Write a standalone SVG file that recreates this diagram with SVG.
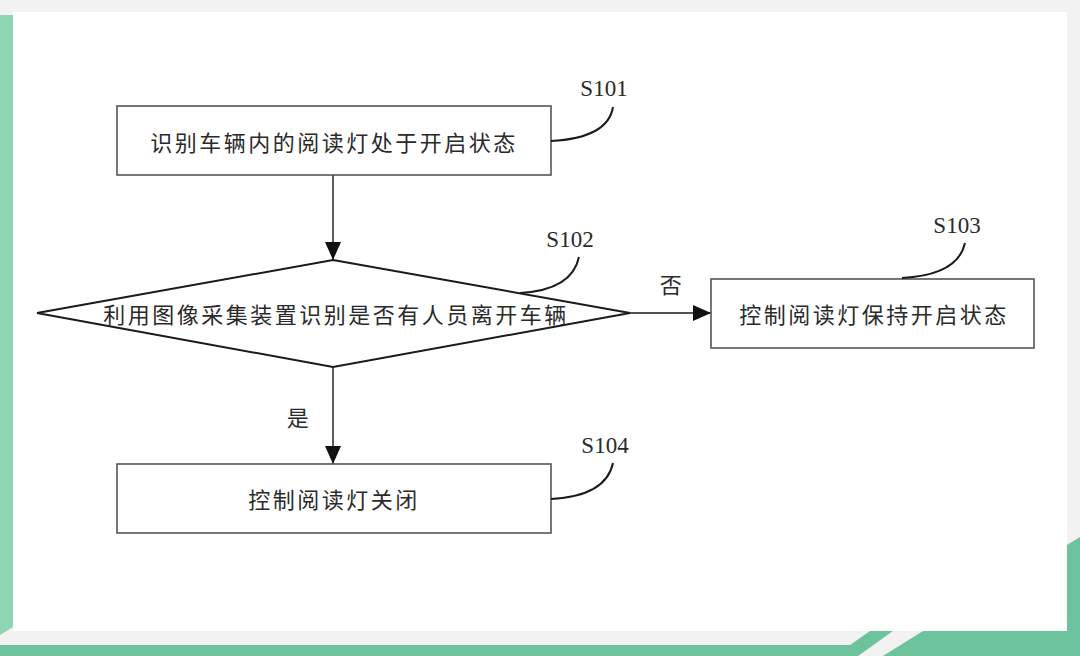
<svg xmlns="http://www.w3.org/2000/svg" width="1080" height="656" viewBox="0 0 1080 656">
  <style>
    .box { fill: #ffffff; stroke: #555555; stroke-width: 1.6; }
    .dia { fill: #ffffff; stroke: #1a1a1a; stroke-width: 2; }
    .conn { fill: none; stroke: #1a1a1a; stroke-width: 1.4; }
    .lead { fill: none; stroke: #1a1a1a; stroke-width: 2; }
    .cn { font-family: "Noto Sans CJK SC", "Noto Sans", sans-serif; font-size: 22px; fill: #2a2a2a; letter-spacing: 2.5px; dominant-baseline: central; text-anchor: middle; }
    .lbl { font-family: "Liberation Serif", serif; font-size: 23px; fill: #2a2a2a; text-anchor: middle; }
  </style>
  <defs>
    <marker id="arr" markerUnits="userSpaceOnUse" markerWidth="18" markerHeight="16" refX="18" refY="8" orient="auto">
      <path d="M0,0 L18,8 L0,16 z" fill="#111111"/>
    </marker>
  </defs>

  <g id="background">
    <rect x="0" y="0" width="1080" height="656" fill="#f2f2f2"/>
    <rect x="13" y="12" width="1054" height="619" fill="#ffffff"/>
    <polygon points="0,15 13,15 13,627 0,635" fill="#8ed5b2"/>
    <polygon points="0,645 850,645 870,631 893,631 858,656 0,656" fill="#6cc39c"/>
    <polygon points="923,631 1067,631 1067,545 1080,537 1080,656 883,656" fill="#6cc39c"/>
  </g>

  <g id="connectors">
    <line class="conn" x1="333" y1="175" x2="333" y2="260" marker-end="url(#arr)"/>
    <line class="conn" x1="630" y1="313" x2="711" y2="313" marker-end="url(#arr)"/>
    <line class="conn" x1="333" y1="367" x2="333" y2="464" marker-end="url(#arr)"/>
    <text class="cn" x="672" y="283">否</text>
    <text class="cn" x="299" y="416">是</text>
  </g>

  <g id="S101">
    <rect class="box" x="117" y="106" width="434" height="69"/>
    <text class="cn" x="334" y="141">识别车辆内的阅读灯处于开启状态</text>
    <path class="lead" d="M613,107 Q608,138 551,141"/>
    <text class="lbl" x="604" y="96">S101</text>
  </g>

  <g id="S102">
    <polygon class="dia" points="333,260 630,313 333,367 37,313"/>
    <text class="cn" x="336" y="313">利用图像采集装置识别是否有人员离开车辆</text>
    <path class="lead" d="M579,257 Q572,290 520,293"/>
    <text class="lbl" x="570" y="247">S102</text>
  </g>

  <g id="S103">
    <rect class="box" x="711" y="279" width="323" height="69"/>
    <text class="cn" x="874" y="313">控制阅读灯保持开启状态</text>
    <path class="lead" d="M965,243 Q958,275 902,278"/>
    <text class="lbl" x="957" y="233">S103</text>
  </g>

  <g id="S104">
    <rect class="box" x="117" y="464" width="434" height="69"/>
    <text class="cn" x="334" y="498">控制阅读灯关闭</text>
    <path class="lead" d="M613,463 Q606,496 551,499"/>
    <text class="lbl" x="605" y="453">S104</text>
  </g>
</svg>
